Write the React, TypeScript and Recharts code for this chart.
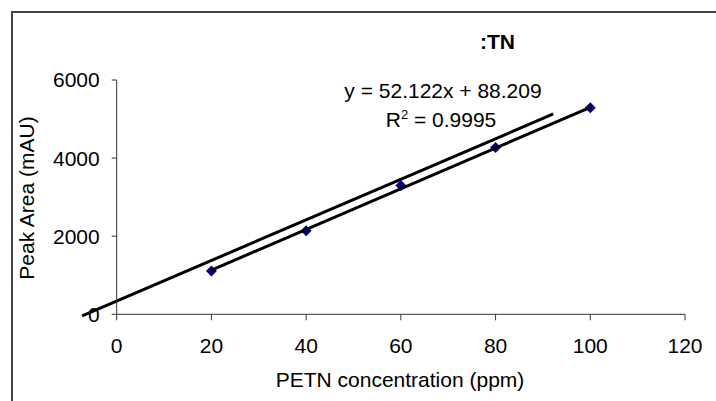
import React from 'react';
import { ScatterChart, Scatter, XAxis, YAxis, ReferenceLine } from 'recharts';

// measured points (ppm vs peak area)
const concentration = [20, 40, 60, 80, 100];
const peakArea = [1110, 2140, 3300, 4270, 5290];

// trendline ends, from y = 52.122x + 88.209
const trendX = [20, 100];
const trendY = [1131, 5300];

// the extra drawn line above the trendline
const upperX = [-7.3, 92.2];
const upperY = [-40, 5130];

const xTicks = [0, 20, 40, 60, 80, 100, 120];
const yTicks = [0, 2000, 4000, 6000];

const points = concentration.map((x, i) => ({ x, y: peakArea[i] }));
const trend = trendX.map((x, i) => ({ x, y: trendY[i] }));

const font = '"Liberation Sans", Arial, sans-serif';
const axisColor = '#333';

const Diamond = (props: any) => {
    const { cx, cy } = props;
    const r = 5.5;
    return <polygon points={`${cx},${cy - r} ${cx + r},${cy} ${cx},${cy + r} ${cx - r},${cy}`} fill="#000080" />;
};

const App: React.FC = () => {
    return (
        <div style={{ position: 'absolute', left: 0, top: 0, width: 716, height: 401, overflow: 'hidden', background: '#fff', fontFamily: font }}>
            <div style={{ position: 'absolute', left: 11, top: 11, width: 800, height: 500, border: '2px solid #444' }} />
            <ScatterChart width={716} height={401} margin={{ top: 80, right: 31, bottom: 26.7, left: 0 }}>
                <XAxis
                    dataKey="x"
                    type="number"
                    domain={[0, 120]}
                    ticks={xTicks}
                    tickSize={6}
                    tickMargin={18}
                    height={60}
                    stroke={axisColor}
                    tick={{ fill: '#000', fontSize: 21, fontFamily: font }}
                />
                <YAxis
                    dataKey="y"
                    type="number"
                    domain={[0, 6000]}
                    ticks={yTicks}
                    tickSize={5}
                    tickMargin={12}
                    width={116.7}
                    stroke={axisColor}
                    tick={{ fill: '#000', fontSize: 21, fontFamily: font }}
                />
                <Scatter data={points} shape={<Diamond />} isAnimationActive={false} />
                <Scatter
                    data={trend}
                    line={{ stroke: '#000', strokeWidth: 3 }}
                    shape={() => <g />}
                    isAnimationActive={false}
                />
                <ReferenceLine
                    segment={[{ x: upperX[0], y: upperY[0] }, { x: upperX[1], y: upperY[1] }]}
                    stroke="#000"
                    strokeWidth={3}
                    ifOverflow="visible"
                />
            </ScatterChart>
            <div style={{ position: 'absolute', left: 480, top: 29, fontSize: 21, fontWeight: 'bold', lineHeight: '26px', whiteSpace: 'nowrap' }}>:TN</div>
            <div style={{ position: 'absolute', left: 443, top: 91, transform: 'translate(-50%, -50%)', fontSize: 21, lineHeight: '24px', whiteSpace: 'nowrap' }}>
                y = 52.122x + 88.209
            </div>
            <div style={{ position: 'absolute', left: 441, top: 120, transform: 'translate(-50%, -50%)', fontSize: 21, lineHeight: '24px', whiteSpace: 'nowrap' }}>
                R<sup style={{ fontSize: 13, verticalAlign: 'top', lineHeight: '14px' }}>2</sup> = 0.9995
            </div>
            <div style={{ position: 'absolute', left: 400, top: 380, transform: 'translate(-50%, -50%)', fontSize: 21, lineHeight: '24px', whiteSpace: 'nowrap' }}>
                PETN concentration (ppm)
            </div>
            <div style={{ position: 'absolute', left: 27, top: 198, transform: 'translate(-50%, -50%) rotate(-90deg)', fontSize: 21, lineHeight: '24px', whiteSpace: 'nowrap' }}>
                Peak Area (mAU)
            </div>
        </div>
    );
};

export default App;
